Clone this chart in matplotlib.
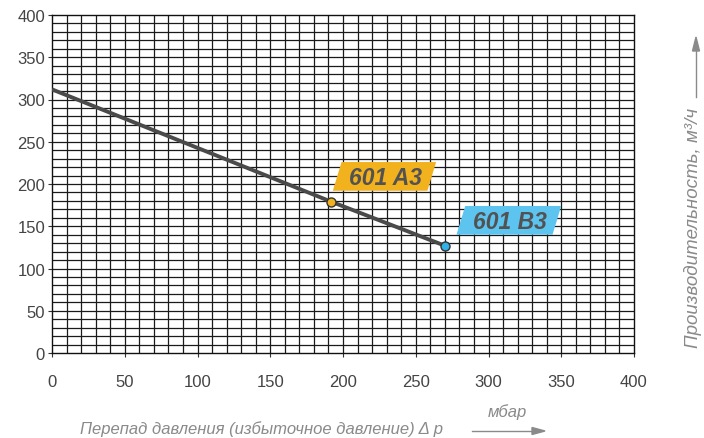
import matplotlib.pyplot as plt
from matplotlib.patches import Polygon
import numpy as np

# данные кривой
dp = [0, 192, 270]          # мбар
flow = [312, 179, 127]      # м3/ч
points = ['601 A3', '601 B3']
point_x = [192, 270]
point_y = [179, 127]
point_colors = ['#f2b21e', '#33b0e6']
label_colors = ['#f2b21e', '#5cc4ef']

plt.rcParams['font.family'] = ['Liberation Sans', 'DejaVu Sans']

fig = plt.figure(figsize=(7.04, 4.39), dpi=100)
ax = fig.add_axes([52/704, 85/439, 582/704, 338/439])

ax.set_xlim(0, 400)
ax.set_ylim(0, 400)

# сетка 10x10
for gx in np.arange(10, 400, 10):
    ax.axvline(gx, color='#1a1a1a', lw=0.9, zorder=1)
for gy in np.arange(10, 400, 10):
    ax.axhline(gy, color='#1a1a1a', lw=0.9, zorder=1)

ax.plot(dp, flow, color='#4a4a4a', lw=2.8, solid_capstyle='butt', zorder=3)

for x, y, c in zip(point_x, point_y, point_colors):
    ax.plot(x, y, 'o', ms=6.5, mfc=c, mec='#333333', mew=1.0, zorder=4)

# подписи-параллелограммы
boxes = [(193, 192, 264, 226), (278, 140, 350, 174)]
skew = 6
for (x0, y0, x1, y1), name, c in zip(boxes, points, label_colors):
    poly = Polygon([(x0, y0), (x1 - skew, y0), (x1, y1), (x0 + skew, y1)],
                   closed=True, facecolor=c, edgecolor='none', zorder=5)
    ax.add_patch(poly)
    ax.text((x0 + x1) / 2 + 0.5, (y0 + y1) / 2 - 1, name, ha='center', va='center',
            fontsize=16.5, fontweight='bold', fontstyle='italic', color='#525252', zorder=6)

for s in ax.spines.values():
    s.set_color('#111111')
    s.set_linewidth(1.0)
    s.set_zorder(2)

ax.set_xticks(np.arange(0, 401, 50))
ax.set_yticks(np.arange(0, 401, 50))
ax.tick_params(direction='out', length=3, width=0.8, color='#333333',
               labelsize=12, labelcolor='#444444')
ax.tick_params(axis='x', pad=12)
ax.tick_params(axis='y', pad=2)

# подписи осей
fig.text(262/704, 1 - 429/439, 'Перепад давления (избыточное давление) Δ p',
         ha='center', va='center', fontsize=12, fontstyle='italic', color='#8a8a8a')
fig.text(507/704, 1 - 412/439, 'мбар', ha='center', va='center',
         fontsize=12, fontstyle='italic', color='#8a8a8a')
fig.add_artist(plt.Line2D([472/704, 534/704], [1 - 432/439, 1 - 432/439], color='#8a8a8a', lw=1))
fig.patches.append(Polygon([(532/704, 1 - 428.5/439), (545/704, 1 - 432/439), (532/704, 1 - 435.5/439)],
                           closed=True, transform=fig.transFigure, color='#8a8a8a'))

fig.text(693/704, 1 - 228/439, 'Производительность, м³/ч', rotation=90,
         ha='center', va='center', fontsize=13.5, fontstyle='italic', color='#8a8a8a')
fig.add_artist(plt.Line2D([696/704, 696/704], [1 - 98/439, 1 - 50/439], color='#8a8a8a', lw=1))
fig.patches.append(Polygon([(692.5/704, 1 - 52/439), (696/704, 1 - 38/439), (699.5/704, 1 - 52/439)],
                           closed=True, transform=fig.transFigure, color='#8a8a8a'))

fig.savefig('out.png', dpi=100)
